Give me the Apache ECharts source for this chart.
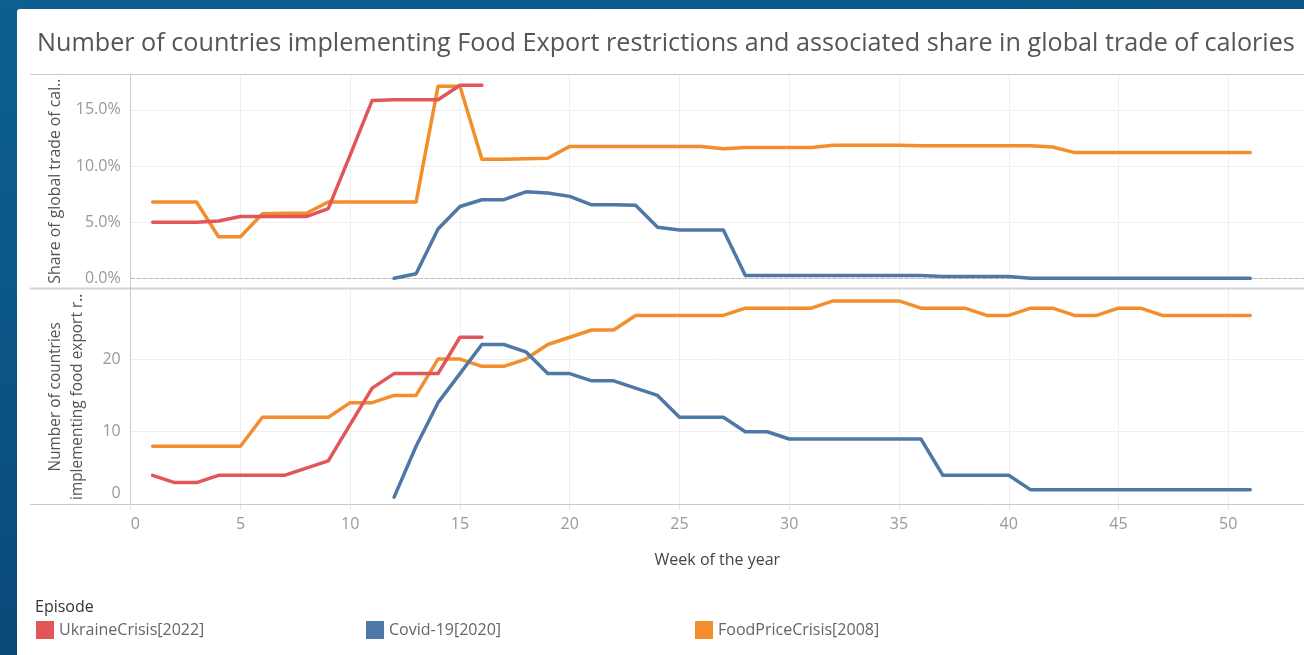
<!DOCTYPE html>
<html>
<head>
<meta charset="utf-8">
<title>Food export restrictions</title>
<script src="https://cdn.jsdelivr.net/npm/echarts@6/dist/echarts.min.js"></script>
<style>
html,body{margin:0;padding:0;}
body{width:1304px;height:655px;overflow:hidden;position:relative;
  background:linear-gradient(165deg,#0d5f92 0%,#0a5283 45%,#073a63 100%);}
#sheet{position:absolute;left:17px;top:9px;right:0;bottom:0;background:#fff;border-top-left-radius:3px;}
#main{position:absolute;left:0;top:0;width:1304px;height:655px;}
</style>
</head>
<body>
<div id="sheet"></div>
<div id="main"></div>
<script>
// episodes (legend order)
var episodes = ['UkraineCrisis[2022]', 'Covid-19[2020]', 'FoodPriceCrisis[2008]'];
var colors = ['#e15759', '#4e79a7', '#f28e2b'];

// first week of each series
var ukraineStart = 1;
var covidStart = 12;
var foodStart = 1;

// share of global trade of calories, in %
var ukraineShare = [5.0, 5.0, 5.0, 5.1, 5.5, 5.5, 5.5, 5.5, 6.2, 11.0, 15.85, 15.9, 15.9, 15.9, 17.2, 17.2];
var covidShare = [0.0, 0.4, 4.4, 6.4, 7.0, 7.0, 7.7, 7.6, 7.3, 6.55, 6.55, 6.5, 4.55, 4.3, 4.3, 4.3,
    0.25, 0.25, 0.25, 0.25, 0.25, 0.25, 0.25, 0.25, 0.25, 0.15, 0.15, 0.15, 0.15,
    0.0, 0.0, 0.0, 0.0, 0.0, 0.0, 0.0, 0.0, 0.0, 0.0, 0.0];
var foodShare = [6.8, 6.8, 6.8, 3.7, 3.7, 5.75, 5.8, 5.8, 6.8, 6.8, 6.8, 6.8, 6.8, 17.1, 17.1, 10.6,
    10.6, 10.65, 10.7, 11.75, 11.75, 11.75, 11.75, 11.75, 11.75, 11.75, 11.55, 11.65, 11.65, 11.65, 11.65,
    11.85, 11.85, 11.85, 11.85, 11.8, 11.8, 11.8, 11.8, 11.8, 11.8, 11.7,
    11.2, 11.2, 11.2, 11.2, 11.2, 11.2, 11.2, 11.2, 11.2];

// number of countries implementing food export restrictions
var ukraineCount = [4, 3, 3, 4, 4, 4, 4, 5, 6, 11, 16, 18, 18, 18, 23, 23];
var covidCount = [1, 8, 14, 18, 22, 22, 21, 18, 18, 17, 17, 16, 15, 12, 12, 12, 10, 10,
    9, 9, 9, 9, 9, 9, 9, 4, 4, 4, 4, 2, 2, 2, 2, 2, 2, 2, 2, 2, 2, 2];
var foodCount = [8, 8, 8, 8, 8, 12, 12, 12, 12, 14, 14, 15, 15, 20, 20, 19, 19, 20, 22, 23, 24, 24,
    26, 26, 26, 26, 26, 27, 27, 27, 27, 28, 28, 28, 28, 27, 27, 27, 26, 26, 27, 27, 26, 26, 27, 27,
    26, 26, 26, 26, 26];

var fontFam = '"Open Sans", Lato, sans-serif';

function toPoints(start, values) {
    var out = [];
    for (var i = 0; i < values.length; i++) {
        out.push([start + i, values[i]]);
    }
    return out;
}

function lineSeries(idx, gridIdx, data) {
    return {
        name: episodes[idx],
        type: 'line',
        xAxisIndex: gridIdx,
        yAxisIndex: gridIdx,
        data: data,
        showSymbol: false,
        z: 10 - idx,
        lineStyle: { width: 3.5, color: colors[idx], join: 'round', cap: 'round' },
        itemStyle: { color: colors[idx] }
    };
}

function legendAt(x, idx) {
    return {
        left: x, top: 621, padding: 0, itemGap: 0,
        icon: 'rect', itemWidth: 18, itemHeight: 18,
        data: [episodes[idx]],
        textStyle: { color: '#666', fontSize: 16, fontFamily: fontFam }
    };
}

var gridLine = { lineStyle: { color: '#efefef', width: 1 }, showMinLine: false, showMaxLine: false };
var frameColor = '#cacaca';

var chart = echarts.init(document.getElementById('main'));
var option = {
    animation: false,
    textStyle: { fontFamily: fontFam },
    title: [
        {
            text: 'Number of countries implementing Food Export restrictions and associated share in global trade of calories',
            left: 37, top: 31, padding: 0,
            textStyle: { color: '#555', fontSize: 25.2, fontWeight: 'normal', fontFamily: fontFam }
        },
        {
            text: 'Episode', left: 35, top: 599, padding: 0,
            textStyle: { color: '#333', fontSize: 16, fontWeight: 'normal', fontFamily: fontFam }
        }
    ],
    legend: [legendAt(36, 0), legendAt(366, 1), legendAt(695, 2)],
    grid: [
        { left: 130.7, right: 0, top: 74, height: 204.3 },
        { left: 130.7, right: 0, top: 289.3, height: 215.1 }
    ],
    xAxis: [
        {
            gridIndex: 0, type: 'value', min: 0, max: 53.45, interval: 5,
            axisLine: { show: true, onZero: false, lineStyle: { color: '#bdbdbd', type: 'dashed', width: 1 } },
            axisTick: { show: false },
            axisLabel: { show: false },
            splitLine: gridLine
        },
        {
            gridIndex: 1, type: 'value', min: 0, max: 53.45, interval: 5,
            axisLine: { show: false },
            axisTick: { show: true, length: 5, lineStyle: { color: '#e3e3e3' } },
            axisLabel: { color: '#999', fontSize: 16, margin: 12, showMaxLabel: false, alignMinLabel: 'left' },
            splitLine: gridLine,
            name: 'Week of the year', nameLocation: 'middle', nameGap: 48,
            nameTextStyle: { color: '#444', fontSize: 16 }
        }
    ],
    yAxis: [
        {
            gridIndex: 0, type: 'value', min: 0, max: 18.2, interval: 5,
            axisLine: { show: false },
            axisTick: { show: false },
            axisLabel: {
                color: '#999', fontSize: 16, margin: 10, showMaxLabel: false,
                formatter: function (v) { return v.toFixed(1) + '%'; }
            },
            splitLine: gridLine,
            name: 'Share of global trade of cal..', nameLocation: 'middle', nameGap: 67,
            // centre on the whole pane, not just the plot above the zero line
            nameTextStyle: { color: '#555', fontSize: 15.8, padding: [0, 10, 0, 0] }
        },
        {
            gridIndex: 1, type: 'value', min: 0, max: 29.6, interval: 10,
            axisLine: { show: false },
            axisTick: { show: false },
            axisLabel: {
                color: '#999', fontSize: 16, margin: 10, showMaxLabel: false,
                // tableau nudges the zero label up inside the pane
                formatter: function (v) { return v === 0 ? '{z|0}' : String(v); },
                rich: { z: { color: '#999', fontSize: 16, padding: [0, 0, 22, 0] } }
            },
            splitLine: gridLine,
            name: 'Number of countries\nimplementing food export r..', nameLocation: 'middle', nameGap: 42,
            nameTextStyle: { color: '#555', fontSize: 15.4, lineHeight: 22 }
        }
    ],
    graphic: [
        { type: 'line', shape: { x1: 30, y1: 74.5, x2: 1304, y2: 74.5 }, style: { stroke: frameColor, lineWidth: 1 }, z: 20 },
        { type: 'line', shape: { x1: 30, y1: 288.5, x2: 1304, y2: 288.5 }, style: { stroke: '#d4d4d4', lineWidth: 2 }, z: 20 },
        { type: 'line', shape: { x1: 30, y1: 504.5, x2: 1304, y2: 504.5 }, style: { stroke: frameColor, lineWidth: 1 }, z: 20 },
        { type: 'line', shape: { x1: 130.5, y1: 74, x2: 130.5, y2: 505 }, style: { stroke: frameColor, lineWidth: 1 }, z: 20 }
    ],
    series: [
        lineSeries(2, 0, toPoints(foodStart, foodShare)),
        lineSeries(1, 0, toPoints(covidStart, covidShare)),
        lineSeries(0, 0, toPoints(ukraineStart, ukraineShare)),
        lineSeries(2, 1, toPoints(foodStart, foodCount)),
        lineSeries(1, 1, toPoints(covidStart, covidCount)),
        lineSeries(0, 1, toPoints(ukraineStart, ukraineCount))
    ]
};
chart.setOption(option);
</script>
</body>
</html>
